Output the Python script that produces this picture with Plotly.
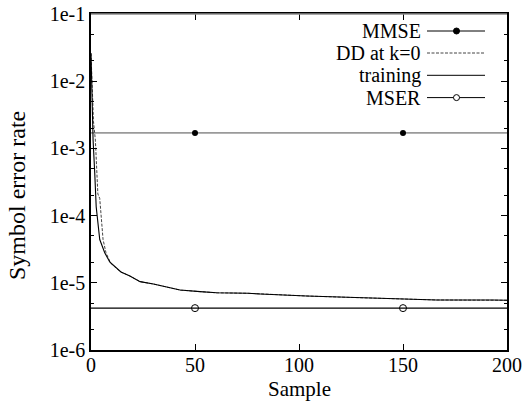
import plotly.graph_objects as go

# ---- data ----
train_x = [0, 0.5, 1, 1.8, 2.5, 4.2, 6.6, 9, 11.4, 14.4, 18.7, 21.2, 23.6, 30, 36.4,
           42.8, 52.4, 60.4, 75.5, 81.3, 103.7, 129.3, 150, 166.2, 193.3, 200]
train_y = [2.6e-2, 5e-3, 1.33e-3, 4.3e-4, 1.35e-4, 4.4e-5, 2.8e-5, 2.04e-5, 1.73e-5,
           1.45e-5, 1.26e-5, 1.13e-5, 1.04e-5, 9.6e-6, 8.75e-6, 7.8e-6, 7.4e-6, 7.1e-6,
           6.98e-6, 6.8e-6, 6.36e-6, 6.0e-6, 5.8e-6, 5.55e-6, 5.55e-6, 5.5e-6]

dd_x = [0, 0.6, 1.2, 2.1, 2.9, 3.3, 4.2, 4.6, 5.8, 7.2, 9.5, 11.4, 14.4, 18.7, 23.6,
        30, 36.4, 42.8, 52.4, 60.4, 75.5, 103.7, 129.3, 150, 166.2, 200]
dd_y = [2.6e-2, 6e-3, 2.5e-3, 1.33e-3, 4.3e-4, 2.1e-4, 1.8e-4, 1.35e-4, 4.4e-5, 2.8e-5,
        1.95e-5, 1.73e-5, 1.45e-5, 1.26e-5, 1.04e-5, 9.6e-6, 8.75e-6, 7.8e-6, 7.4e-6,
        7.1e-6, 6.98e-6, 6.36e-6, 6.0e-6, 5.8e-6, 5.55e-6, 5.5e-6]

mmse_x = [0, 200]
mmse_y = [1.7e-3, 1.7e-3]
mmse_mark_x = [50, 150]
mmse_mark_y = [1.7e-3, 1.7e-3]

mser_x = [0, 200]
mser_y = [4.2e-6, 4.2e-6]
mser_mark_x = [50, 150]
mser_mark_y = [4.2e-6, 4.2e-6]

x_ticks = [0, 50, 100, 150, 200]
y_ticks = [1e-6, 1e-5, 1e-4, 1e-3, 1e-2, 1e-1]
y_ticktext = ["1e-6", "1e-5", "1e-4", "1e-3", "1e-2", "1e-1"]
y_minor = [m * d for d in [1e-6, 1e-5, 1e-4, 1e-3, 1e-2] for m in (2, 5)]

legend_names = ["MMSE", "DD at k=0", "training", "MSER"]

FONT = "Liberation Serif"

fig = go.Figure()
fig.add_trace(go.Scatter(x=mmse_x, y=mmse_y, mode="lines",
                         line=dict(color="#9a9a9a", width=1.6), showlegend=False))
fig.add_trace(go.Scatter(x=mser_x, y=mser_y, mode="lines",
                         line=dict(color="black", width=1.2), showlegend=False))
fig.add_trace(go.Scatter(x=dd_x, y=dd_y, mode="lines",
                         line=dict(color="#444444", width=1, dash="3px,1.5px"), showlegend=False))
fig.add_trace(go.Scatter(x=train_x, y=train_y, mode="lines",
                         line=dict(color="black", width=1.1), showlegend=False))
fig.add_trace(go.Scatter(x=mmse_mark_x, y=mmse_mark_y, mode="markers",
                         marker=dict(symbol="circle", size=6, color="black"), showlegend=False))
fig.add_trace(go.Scatter(x=mser_mark_x, y=mser_mark_y, mode="markers",
                         marker=dict(symbol="circle-open", size=7, color="black",
                                     line=dict(width=1)), showlegend=False))

# ---- plot area geometry (pixels) ----
L, R, T, B = 91, 507, 14, 350
W, H = 528, 407


def px(x):
    return (x - L) / (R - L)


def py(y):
    return (B - y) / (B - T)


shapes = []
annotations = []
# manual legend (symbols to the right of the text)
leg_rows = [31, 53, 75.3, 97.6]
leg_styles = [
    dict(color="black", width=1, dash="solid"),
    dict(color="#444444", width=1, dash="3px,1.5px"),
    dict(color="black", width=1, dash="solid"),
    dict(color="black", width=1, dash="solid"),
]
for name, yy, st in zip(legend_names, leg_rows, leg_styles):
    annotations.append(dict(x=px(423), y=py(yy), xref="paper", yref="paper",
                            text=name, showarrow=False, xanchor="right", yanchor="middle",
                            font=dict(family=FONT, size=20, color="black")))
    shapes.append(dict(type="line", xref="paper", yref="paper",
                       x0=px(427), x1=px(485), y0=py(yy), y1=py(yy), line=st))
# legend markers
shapes.append(dict(type="circle", xref="paper", yref="paper", xsizemode="pixel",
                   ysizemode="pixel", xanchor=px(456.5), yanchor=py(leg_rows[0]),
                   x0=-3, x1=3, y0=-3, y1=3, fillcolor="black", line=dict(color="black", width=1)))
shapes.append(dict(type="circle", xref="paper", yref="paper", xsizemode="pixel",
                   ysizemode="pixel", xanchor=px(456.5), yanchor=py(leg_rows[3]),
                   x0=-3, x1=3, y0=-3, y1=3, fillcolor="white", line=dict(color="black", width=1)))
# gray top border
shapes.append(dict(type="line", xref="paper", yref="paper", x0=0, x1=1, y0=1, y1=1,
                   line=dict(color="#8a8a8a", width=1.5), layer="above"))

annotations.append(dict(x=px(17), y=py(196), xref="paper", yref="paper",
                        text="Symbol error rate", textangle=-90, showarrow=False,
                        xanchor="center", yanchor="middle",
                        font=dict(family=FONT, size=24, color="black")))
annotations.append(dict(x=0.5, y=py(389), xref="paper", yref="paper",
                        text="Sample", showarrow=False,
                        xanchor="center", yanchor="middle",
                        font=dict(family=FONT, size=21, color="black")))

fig.update_layout(
    width=W, height=H,
    margin=dict(l=L, r=W - R, t=T, b=H - B, pad=0, autoexpand=False),
    paper_bgcolor="white", plot_bgcolor="white",
    font=dict(family=FONT, size=20, color="black"),
    shapes=shapes, annotations=annotations,
    showlegend=False,
)
fig.update_xaxes(range=[0, 200], tickvals=x_ticks, ticks="inside", ticklen=6,
                 tickcolor="black", showline=True, linecolor="black", linewidth=1.5,
                 mirror="ticks", showgrid=False, zeroline=False, automargin=False,
                 ticklabelstandoff=-4, tickfont=dict(family=FONT, size=20))
fig.update_yaxes(type="log", range=[-6, -1], tickvals=y_ticks, ticktext=y_ticktext,
                 ticks="inside", ticklen=6, tickcolor="black", showline=True,
                 linecolor="black", linewidth=1.5, mirror="ticks", showgrid=False,
                 zeroline=False, automargin=False, tickfont=dict(family=FONT, size=20),
                 minor=dict(tickvals=y_minor, ticks="inside", ticklen=3, tickcolor="black",
                            showgrid=False))

fig.write_html("out.html", config={"displayModeBar": False},
               post_script="document.body.style.margin='0';")
